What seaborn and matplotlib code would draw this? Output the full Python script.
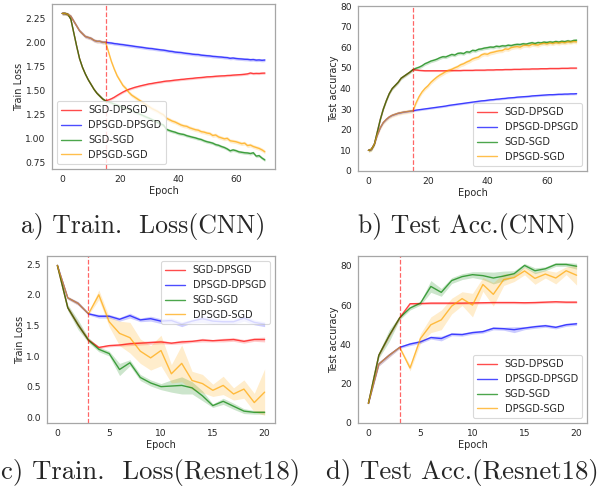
import numpy as np
import pandas as pd
import matplotlib
matplotlib.use("Agg")
import matplotlib.pyplot as plt
from matplotlib.lines import Line2D
from matplotlib.ticker import MultipleLocator
import seaborn as sns

# ---------------------------------------------------------------- data
methods = ["SGD-DPSGD", "DPSGD-DPSGD", "SGD-SGD", "DPSGD-SGD"]
palette = {"SGD-DPSGD": "red", "DPSGD-DPSGD": "blue",
           "SGD-SGD": "green", "DPSGD-SGD": "orange"}

# CNN: first optimiser for epochs 0-15, second one for epochs 16-70
cnn_switch = 15
cnn_epochs = list(range(0, 71))

cnn_loss_sgd_pre = [2.30, 2.30, 2.29, 2.24, 2.10, 1.96, 1.83, 1.74, 1.67, 1.61,
                    1.56, 1.51, 1.47, 1.44, 1.41, 1.39]
cnn_loss_dpsgd_pre = [2.30, 2.30, 2.29, 2.27, 2.22, 2.17, 2.12, 2.09, 2.06, 2.05,
                      2.04, 2.02, 2.01, 2.01, 2.00, 2.00]
cnn_loss_sgd_dpsgd = [1.400, 1.412, 1.428, 1.447, 1.465, 1.482, 1.497, 1.510, 1.520, 1.530,
                      1.538, 1.546, 1.553, 1.560, 1.567, 1.571, 1.577, 1.582, 1.586, 1.592,
                      1.596, 1.598, 1.602, 1.606, 1.609, 1.613, 1.615, 1.619, 1.622, 1.624,
                      1.628, 1.631, 1.633, 1.636, 1.640, 1.641, 1.643, 1.646, 1.648, 1.650,
                      1.651, 1.654, 1.655, 1.658, 1.660, 1.662, 1.664, 1.667, 1.671, 1.680,
                      1.674, 1.676, 1.675, 1.678, 1.679]
cnn_loss_dpsgd_dpsgd = [1.995, 1.992, 1.986, 1.983, 1.978, 1.975, 1.970, 1.966, 1.962, 1.957,
                        1.953, 1.949, 1.945, 1.940, 1.936, 1.934, 1.929, 1.925, 1.921, 1.918,
                        1.913, 1.907, 1.904, 1.898, 1.895, 1.893, 1.888, 1.884, 1.881, 1.876,
                        1.873, 1.872, 1.866, 1.863, 1.860, 1.858, 1.853, 1.851, 1.848, 1.846,
                        1.842, 1.840, 1.833, 1.836, 1.831, 1.828, 1.826, 1.823, 1.822, 1.818,
                        1.820, 1.814, 1.816, 1.812, 1.815]
cnn_loss_sgd_sgd = [1.378, 1.369, 1.357, 1.346, 1.334, 1.323, 1.312, 1.301, 1.288, 1.277,
                    1.263, 1.250, 1.236, 1.222, 1.210, 1.196, 1.182, 1.166, 1.150, 1.138,
                    1.094, 1.082, 1.072, 1.064, 1.052, 1.045, 1.040, 1.028, 1.020, 1.012,
                    1.005, 0.995, 0.988, 0.975, 0.965, 0.958, 0.950, 0.935, 0.928, 0.915,
                    0.905, 0.890, 0.870, 0.880, 0.872, 0.860, 0.855, 0.850, 0.848, 0.842,
                    0.850, 0.815, 0.820, 0.795, 0.775]
cnn_loss_dpsgd_sgd = [1.90, 1.80, 1.72, 1.65, 1.60, 1.55, 1.52, 1.48, 1.45, 1.43,
                      1.41, 1.39, 1.37, 1.35, 1.33, 1.31, 1.295, 1.28, 1.26, 1.245,
                      1.21, 1.195, 1.18, 1.17, 1.155, 1.14, 1.13, 1.125, 1.11, 1.10,
                      1.09, 1.085, 1.07, 1.065, 1.055, 1.05, 1.03, 1.035, 1.015, 1.005,
                      0.995, 1.00, 0.975, 0.97, 0.965, 0.955, 0.945, 0.95, 0.925, 0.93,
                      0.915, 0.905, 0.895, 0.88, 0.86]
cnn_loss_spread = [0.012, 0.016, 0.016, 0.02]

cnn_acc_sgd_pre = [10.0, 10.5, 13.0, 19.0, 25.0, 30.0, 34.0, 37.5, 40.0, 41.5,
                   43.0, 45.0, 46.0, 47.0, 48.0, 49.2]
cnn_acc_dpsgd_pre = [10.0, 10.5, 13.0, 17.5, 21.0, 23.5, 25.0, 26.2, 27.0, 27.5,
                     28.0, 28.3, 28.6, 28.8, 29.0, 29.2]
cnn_acc_sgd_dpsgd = [49.0, 48.8, 48.7, 48.6, 48.6, 48.6, 48.6, 48.6, 48.6, 48.6,
                     48.6, 48.7, 48.7, 48.7, 48.7, 48.7, 48.8, 48.8, 48.8, 48.8,
                     48.9, 48.9, 48.9, 48.9, 49.0, 49.0, 49.0, 49.1, 49.1, 49.1,
                     49.2, 49.2, 49.2, 49.3, 49.3, 49.3, 49.4, 49.4, 49.4, 49.5,
                     49.5, 49.5, 49.6, 49.6, 49.6, 49.7, 49.7, 49.7, 49.7, 49.8,
                     49.8, 49.8, 49.9, 49.9, 49.9]
cnn_acc_dpsgd_dpsgd = [29.5, 29.7, 29.9, 30.1, 30.3, 30.5, 30.7, 30.9, 31.1, 31.3,
                       31.5, 31.8, 32.0, 32.2, 32.4, 32.6, 32.8, 33.0, 33.2, 33.4,
                       33.6, 33.8, 34.0, 34.1, 34.3, 34.5, 34.6, 34.8, 34.9, 35.1,
                       35.2, 35.4, 35.5, 35.6, 35.8, 35.9, 36.0, 36.1, 36.2, 36.4,
                       36.5, 36.6, 36.7, 36.8, 36.9, 37.0, 37.0, 37.1, 37.2, 37.2,
                       37.3, 37.3, 37.4, 37.4, 37.5]
cnn_acc_sgd_sgd = [49.8, 50.3, 51.0, 52.0, 52.6, 53.3, 53.7, 54.2, 54.9, 55.4,
                   55.3, 55.9, 56.5, 56.2, 57.0, 57.2, 56.9, 57.8, 57.6, 58.5,
                   58.3, 59.0, 59.2, 59.6, 59.8, 60.1, 60.0, 60.5, 60.3, 60.7,
                   60.6, 61.0, 60.8, 61.2, 61.4, 61.3, 61.7, 61.5, 61.9, 62.2,
                   61.8, 62.3, 62.1, 62.5, 62.3, 62.6, 62.4, 62.8, 62.5, 62.9,
                   62.7, 63.1, 62.8, 63.3, 63.4]
cnn_acc_dpsgd_sgd = [33.0, 36.0, 38.3, 40.0, 41.3, 43.0, 44.3, 45.5, 46.5, 47.3,
                     48.2, 48.8, 49.3, 50.0, 50.6, 51.5, 52.0, 52.8, 53.4, 54.3,
                     54.8, 55.2, 56.3, 56.8, 56.6, 57.3, 57.6, 58.0, 58.3, 58.4,
                     59.2, 59.0, 59.8, 60.1, 60.3, 60.0, 60.8, 61.0, 60.7, 61.4,
                     61.3, 61.0, 61.7, 61.9, 61.6, 62.1, 61.8, 62.3, 62.0, 62.4,
                     62.2, 62.6, 62.5, 62.8, 62.6]
cnn_acc_spread = [0.4, 0.5, 0.8, 1.0]

# ResNet18: first optimiser for epochs 0-3, second one for epochs 4-20
res_switch = 3
res_epochs = list(range(0, 21))

res_loss_sgd_pre = [2.48, 1.79, 1.51, 1.26]
res_loss_dpsgd_pre = [2.48, 1.95, 1.86, 1.69]
res_loss_sgd_dpsgd = [1.14, 1.17, 1.18, 1.20, 1.21, 1.22, 1.23, 1.21, 1.23, 1.24,
                      1.26, 1.25, 1.26, 1.27, 1.24, 1.27, 1.27]
res_loss_dpsgd_dpsgd = [1.65, 1.65, 1.60, 1.66, 1.59, 1.61, 1.57, 1.58, 1.52, 1.57,
                        1.61, 1.57, 1.56, 1.56, 1.62, 1.55, 1.52]
res_loss_sgd_sgd = [1.11, 1.04, 0.78, 0.89, 0.65, 0.56, 0.50, 0.51, 0.52, 0.48,
                    0.35, 0.19, 0.26, 0.18, 0.10, 0.08, 0.08]
res_loss_dpsgd_sgd = [2.00, 1.56, 1.37, 1.30, 1.08, 0.97, 1.09, 0.71, 0.88, 0.60,
                      0.55, 0.44, 0.52, 0.38, 0.46, 0.24, 0.41]
res_loss_spread_sgd_dpsgd = [0.02, 0.03, 0.04, 0.03, 0.02, 0.02, 0.02, 0.03, 0.03, 0.03,
                             0.03, 0.02, 0.03, 0.02, 0.03, 0.02, 0.03, 0.03, 0.03, 0.03, 0.04]
res_loss_spread_dpsgd_dpsgd = [0.02, 0.02, 0.03, 0.02, 0.03, 0.03, 0.03, 0.04, 0.03, 0.04,
                               0.04, 0.04, 0.04, 0.03, 0.06, 0.05, 0.04, 0.04, 0.05, 0.04, 0.04]
res_loss_spread_sgd_sgd = [0.03, 0.05, 0.08, 0.04, 0.04, 0.04, 0.10, 0.05, 0.05, 0.05,
                           0.05, 0.10, 0.14, 0.10, 0.08, 0.03, 0.05, 0.05, 0.04, 0.03, 0.03]
res_loss_spread_dpsgd_sgd = [0.02, 0.03, 0.03, 0.02, 0.08, 0.08, 0.20, 0.25, 0.20, 0.20,
                             0.25, 0.15, 0.30, 0.15, 0.15, 0.10, 0.15, 0.10, 0.15, 0.15, 0.38]

res_acc_sgd_pre = [10.0, 34.5, 44.5, 53.5]
res_acc_dpsgd_pre = [10.0, 30.0, 34.5, 38.5]
res_acc_sgd_dpsgd = [60.7, 60.8, 61.0, 61.0, 61.0, 61.0, 61.1, 61.2, 61.3, 61.3,
                     61.3, 61.2, 61.3, 61.5, 61.7, 61.5, 61.5]
res_acc_dpsgd_dpsgd = [40.2, 41.3, 43.5, 43.0, 45.2, 45.0, 46.0, 46.5, 48.2, 48.0,
                       47.5, 48.3, 49.0, 49.5, 48.7, 50.0, 50.5]
res_acc_sgd_sgd = [58.5, 61.0, 69.5, 66.5, 72.5, 74.5, 75.5, 75.0, 73.8, 74.8,
                   76.0, 80.2, 77.5, 78.5, 80.7, 80.7, 79.8]
res_acc_dpsgd_sgd = [28.0, 43.0, 50.0, 52.5, 59.5, 63.3, 60.0, 70.5, 65.5, 73.0,
                     74.0, 77.4, 73.6, 75.8, 73.8, 77.5, 75.2]
res_acc_spread_sgd_dpsgd = [0.5, 0.8, 1.0, 0.6, 0.6, 0.6, 0.6, 0.6, 0.6, 0.6,
                            0.6, 0.6, 0.6, 0.6, 0.6, 0.6, 0.6, 0.6, 0.6, 0.6, 0.6]
res_acc_spread_dpsgd_dpsgd = [0.5, 1.0, 1.0, 0.6, 0.8, 0.8, 0.8, 1.2, 0.8, 0.8,
                              0.8, 0.8, 0.8, 0.8, 1.5, 0.8, 0.8, 0.8, 0.8, 0.8, 0.8]
res_acc_spread_sgd_sgd = [0.5, 1.5, 3.0, 1.0, 1.0, 1.0, 3.0, 2.0, 1.5, 1.5,
                          1.5, 2.0, 3.0, 2.5, 1.5, 1.0, 1.5, 1.0, 1.0, 1.0, 1.5]
res_acc_spread_dpsgd_sgd = [0.5, 1.0, 1.0, 0.6, 1.5, 2.5, 4.0, 5.0, 4.0, 3.5,
                            6.0, 3.5, 6.0, 3.0, 2.0, 2.0, 3.0, 2.0, 3.0, 2.0, 5.0]

captions = ["a) Train.  Loss(CNN)", "b) Test Acc.(CNN)",
            "c) Train.  Loss(Resnet18)", "d) Test Acc.(Resnet18)"]


# ---------------------------------------------------------------- helpers
def build_series(sgd_pre, dpsgd_pre, post):
    """Prefix each run with the curve of the optimiser used before the switch."""
    first = {"SGD-DPSGD": sgd_pre, "DPSGD-DPSGD": dpsgd_pre,
             "SGD-SGD": sgd_pre, "DPSGD-SGD": dpsgd_pre}
    return {m: list(first[m]) + list(post[m]) for m in methods}


FS = 7.0
TICK_FS = 6.6
EDGE = "#a6a6a6"


def draw_panel(ax, epochs, series, spread, switch, ylabel, loc,
               xstep, ystep, ylim=None):
    # one call per run so that later runs are drawn on top of earlier ones
    for m in methods:
        df = pd.DataFrame({"Epoch": epochs, "value": series[m]})
        sns.lineplot(data=df, x="Epoch", y="value", color=palette[m],
                     errorbar=None, linewidth=1.0, alpha=0.7, ax=ax)
        v = np.asarray(series[m], dtype=float)
        s = np.asarray(spread[m], dtype=float) * np.ones_like(v)
        ax.fill_between(epochs, v - s, v + s, color=palette[m], alpha=0.2, linewidth=0)
    ax.axvline(switch, color="red", linestyle="--", linewidth=0.9, alpha=0.6)
    if ylim is not None:
        ax.set_ylim(*ylim)
    ax.xaxis.set_major_locator(MultipleLocator(xstep))
    ax.yaxis.set_major_locator(MultipleLocator(ystep))
    ax.set_xlabel("Epoch", fontsize=FS, labelpad=1.0)
    ax.set_ylabel(ylabel, fontsize=FS, labelpad=1.0)
    ax.tick_params(labelsize=TICK_FS, length=2.5, width=0.7, color=EDGE, pad=2)
    for sp in ax.spines.values():
        sp.set_color(EDGE)
        sp.set_linewidth(0.9)
    handles = [Line2D([0], [0], color=palette[m], lw=1.0, alpha=0.7) for m in methods]
    leg = ax.legend(handles, methods, loc=loc, fontsize=FS, frameon=True,
                    fancybox=True, borderpad=0.45, labelspacing=0.5,
                    handlelength=2.0, handletextpad=0.8)
    leg.get_frame().set_edgecolor("#d0d0d0")
    leg.get_frame().set_linewidth(0.8)


# ---------------------------------------------------------------- figure
sns.set_style("white")
plt.rcParams["font.family"] = ["DejaVu Sans"]

W, H = 597, 492
fig = plt.figure(figsize=(W / 100, H / 100), dpi=100)


def add_axes(left, top, right, bottom):
    return fig.add_axes([left / W, 1 - bottom / H, (right - left) / W, (bottom - top) / H])


ax_a = add_axes(52, 4, 275, 169)
ax_b = add_axes(358, 6, 587, 171)
ax_c = add_axes(47, 256, 275, 423)
ax_d = add_axes(358, 256, 587, 423)

cnn_loss = build_series(cnn_loss_sgd_pre, cnn_loss_dpsgd_pre, {
    "SGD-DPSGD": cnn_loss_sgd_dpsgd, "DPSGD-DPSGD": cnn_loss_dpsgd_dpsgd,
    "SGD-SGD": cnn_loss_sgd_sgd, "DPSGD-SGD": cnn_loss_dpsgd_sgd})
cnn_acc = build_series(cnn_acc_sgd_pre, cnn_acc_dpsgd_pre, {
    "SGD-DPSGD": cnn_acc_sgd_dpsgd, "DPSGD-DPSGD": cnn_acc_dpsgd_dpsgd,
    "SGD-SGD": cnn_acc_sgd_sgd, "DPSGD-SGD": cnn_acc_dpsgd_sgd})
res_loss = build_series(res_loss_sgd_pre, res_loss_dpsgd_pre, {
    "SGD-DPSGD": res_loss_sgd_dpsgd, "DPSGD-DPSGD": res_loss_dpsgd_dpsgd,
    "SGD-SGD": res_loss_sgd_sgd, "DPSGD-SGD": res_loss_dpsgd_sgd})
res_acc = build_series(res_acc_sgd_pre, res_acc_dpsgd_pre, {
    "SGD-DPSGD": res_acc_sgd_dpsgd, "DPSGD-DPSGD": res_acc_dpsgd_dpsgd,
    "SGD-SGD": res_acc_sgd_sgd, "DPSGD-SGD": res_acc_dpsgd_sgd})

draw_panel(ax_a, cnn_epochs, cnn_loss, dict(zip(methods, cnn_loss_spread)),
           cnn_switch, "Train Loss", "lower left", 20, 0.25)
draw_panel(ax_b, cnn_epochs, cnn_acc, dict(zip(methods, cnn_acc_spread)),
           cnn_switch, "Test accuracy", "lower right", 20, 10, ylim=(0, 80))
draw_panel(ax_c, res_epochs, res_loss,
           {"SGD-DPSGD": res_loss_spread_sgd_dpsgd, "DPSGD-DPSGD": res_loss_spread_dpsgd_dpsgd,
            "SGD-SGD": res_loss_spread_sgd_sgd, "DPSGD-SGD": res_loss_spread_dpsgd_sgd},
           res_switch, "Train Loss", "upper right", 5, 0.5)
draw_panel(ax_d, res_epochs, res_acc,
           {"SGD-DPSGD": res_acc_spread_sgd_dpsgd, "DPSGD-DPSGD": res_acc_spread_dpsgd_dpsgd,
            "SGD-SGD": res_acc_spread_sgd_sgd, "DPSGD-SGD": res_acc_spread_dpsgd_sgd},
           res_switch, "Test accuracy", "lower right", 5, 20, ylim=(0, 85))

# sub-figure captions
cap_pos = [(143, 233, 18.5), (467, 233, 18.5), (151, 479, 19.2), (462, 479, 19.2)]
for text, (cx, cy, size) in zip(captions, cap_pos):
    fig.text(cx / W, 1 - cy / H, text, family="cmr10", fontsize=size,
             ha="center", va="baseline")

fig.savefig("out.png", dpi=100)
